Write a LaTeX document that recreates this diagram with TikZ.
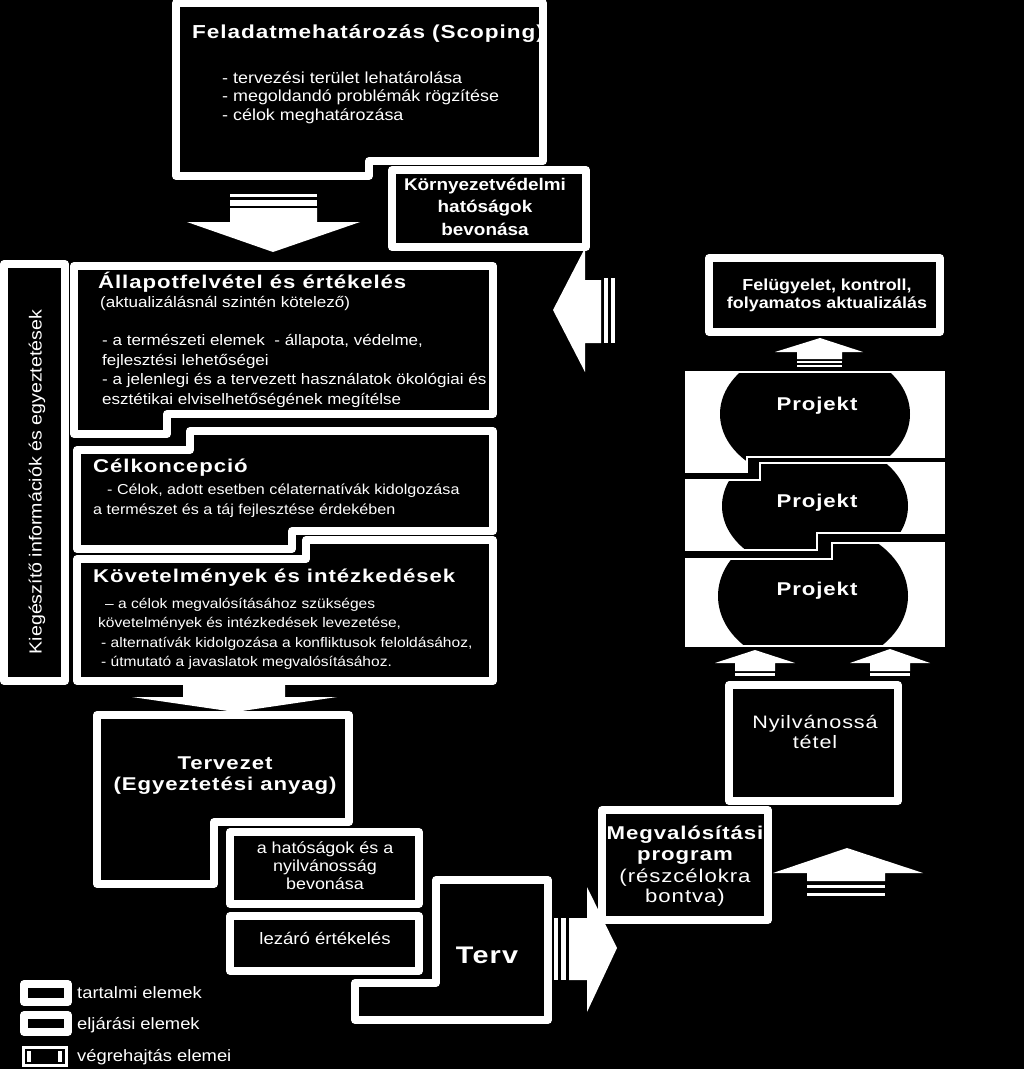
\documentclass[tikz,border=0pt]{standalone}
\usepackage{fontspec}
\setmainfont{Liberation Sans}[FakeStretch=1.12]
\newfontfamily\tfont{Liberation Sans}[FakeStretch=1.2,LetterSpace=5]
\newcommand{\fs}[1]{\fontsize{#1}{#1}\selectfont}
\tikzset{
  box/.style={draw=white, line width=7.5pt, fill=black, line join=round},
  pframe/.style={draw=white, line width=2.5pt},
  arr/.style={fill=white},
  txt/.style={text=white, inner sep=0pt},
  lt/.style={txt, anchor=base west},
  ct/.style={txt, anchor=base},
}
\begin{document}
\begin{tikzpicture}[x=1pt,y=-1pt]
\useasboundingbox (0,0) rectangle (1024,1069);
\fill[black] (0,0) rectangle (1024,1069);

% ---------- block arrows ----------
% down arrow below scoping
\fill[arr] (230,194) rectangle (317,197);
\fill[arr] (230,199.5) rectangle (317,205.5);
\fill[arr] (230,208) -- (317,208) -- (317,222) -- (360,222) -- (273,252) -- (187,222) -- (230,222) -- cycle;
% left arrow
\fill[arr] (553,310) -- (585,248) -- (585,280) -- (601,280) -- (601,343) -- (585,343) -- (585,372) -- cycle;
\fill[arr] (603.5,278) rectangle (608,343);
\fill[arr] (611,278) rectangle (615,343);
% right arrow Terv -> program
\fill[arr] (554,918) rectangle (558,980);
\fill[arr] (561,918) rectangle (566,980);
\fill[arr] (569,918) -- (587,918) -- (587,887) -- (617,948) -- (587,1012) -- (587,980) -- (569,980) -- cycle;
% up arrow right of program
\fill[arr] (807,881) -- (807,873) -- (773,873) -- (847,848) -- (923,873) -- (885,873) -- (885,881) -- cycle;
\fill[arr] (807,884.5) rectangle (885,888);
\fill[arr] (807,892.5) rectangle (885,896);
% up arrow above Projekt 1
\fill[arr] (797,359) -- (797,352) -- (775,352) -- (820,338) -- (863,352) -- (842,352) -- (842,359) -- cycle;
\fill[arr] (797,361) rectangle (842,363);
\fill[arr] (797,365) rectangle (842,367);
% small up arrows below Projekt 3
\fill[arr] (735,671) -- (735,663) -- (715,663) -- (755,650) -- (795,663) -- (775,663) -- (775,671) -- cycle;
\fill[arr] (735,673) rectangle (775,676);
\fill[arr] (870,671) -- (870,663) -- (850,663) -- (890,649) -- (930,663) -- (910,663) -- (910,671) -- cycle;
\fill[arr] (870,673) rectangle (910,676);

% ---------- boxes ----------
\draw[box] (176,3) -- (543,3) -- (543,161) -- (369,161) -- (369,176) -- (176,176) -- cycle;
\draw[box] (392,170) rectangle (586,247);
\draw[box] (4,264) rectangle (65,681);
\draw[box] (74,266) -- (493,266) -- (493,414) -- (167,414) -- (167,434) -- (74,434) -- cycle;
\draw[box] (77,450) -- (190,450) -- (190,431) -- (493,431) -- (493,531) -- (292,531) -- (292,549) -- (77,549) -- cycle;
\draw[box] (77,559) -- (306,559) -- (306,540) -- (493,540) -- (493,681) -- (77,681) -- cycle;
% down arrow below Kovetelmenyek
\fill[arr] (183,683) -- (285,683) -- (285,697) -- (337,697) -- (235,712) -- (132,697) -- (183,697) -- cycle;
\draw[box] (97,715) -- (349,715) -- (349,822) -- (214,822) -- (214,884) -- (97,884) -- cycle;
\draw[box] (230,832) rectangle (419,904);
\draw[box] (230,916) rectangle (419,971);
\draw[box] (436,880) -- (548,880) -- (548,1020) -- (355,1020) -- (355,983) -- (436,983) -- cycle;
\draw[box] (602,810) rectangle (768,920);
\draw[box] (729,685) rectangle (898,801);
\draw[box] (709,258) rectangle (940,332);

% ---------- Projekt frames ----------
\def\pa{(686,372) -- (944,372) -- (944,457) -- (747,457) -- (747,472) -- (686,472) -- cycle}
\def\pb{(686,480) -- (760,480) -- (760,463) -- (944,463) -- (944,533) -- (817,533) -- (817,550) -- (686,550) -- cycle}
\def\pc{(686,559) -- (832,559) -- (832,543) -- (944,543) -- (944,646) -- (686,646) -- cycle}
\fill[white] \pa; \fill[white] \pb; \fill[white] \pc;
\begin{scope}\clip \pa; \fill[black] (815,414) ellipse [x radius=95, y radius=68]; \end{scope}
\begin{scope}\clip \pb; \fill[black] (815,506) ellipse [x radius=93, y radius=66]; \end{scope}
\begin{scope}\clip \pc; \fill[black] (813,596) ellipse [x radius=95, y radius=72]; \end{scope}
\draw[pframe] \pa; \draw[pframe] \pb; \draw[pframe] \pc;

% ---------- legend ----------
\draw[box] (24,984) rectangle (68,1002);
\draw[box] (24,1015) rectangle (68,1032);
\fill[white] (22,1046) rectangle (68,1067);
\fill[black] (25,1049) rectangle (65,1064);
\fill[white] (27,1051) rectangle (31,1062);
\fill[white] (58,1051) rectangle (62,1062);

% ---------- texts ----------
\node[ct] (scT) at (368,38) {\tfont\bfseries\fs{18.8}Feladatmehatározás (Scoping)};
\node[lt] (sc1) at (222,83.5) {\fs{16}- tervezési terület lehatárolása};
\node[lt] (sc2) at (222,101.5) {\fs{16}- megoldandó problémák rögzítése};
\node[lt] (sc3) at (222,120.5) {\fs{16}- célok meghatározása};

\node[ct] (kv1) at (485,190) {\bfseries\fs{16.9}Környezetvédelmi};
\node[ct] (kv2) at (485,212) {\bfseries\fs{16.9}hatóságok};
\node[ct] (kv3) at (485,235) {\bfseries\fs{16.9}bevonása};

\node[txt, rotate=90] (kieg) at (37,482) {\fs{17.5}Kiegészítő információk és egyeztetések};

\node[lt] (alT) at (98,288) {\tfont\bfseries\fs{18.5}Állapotfelvétel és értékelés};
\node[lt] (al0) at (100,307) {\fs{15.2}(aktualizálásnál szintén kötelező)};
\node[lt] (al1) at (102,345) {\fs{15.2}- a természeti elemek \ - állapota, védelme,};
\node[lt] (al2) at (102,365) {\fs{15.2}fejlesztési lehetőségei};
\node[lt] (al3) at (102,384) {\fs{15.2}- a jelenlegi és a tervezett használatok ökológiai és};
\node[lt] (al4) at (102,404) {\fs{15.2}esztétikai elviselhetőségének megítélse};

\node[lt] (ckT) at (93,472) {\tfont\bfseries\fs{18.5}Célkoncepció};
\node[lt] (ck1) at (107,494) {\fs{14.4}- Célok, adott esetben célaternatívák kidolgozása};
\node[lt] (ck2) at (93,514) {\fs{14.4}a természet és a táj fejlesztése érdekében};

\node[lt] (kvT) at (93,582) {\tfont\bfseries\fs{18.5}Követelmények és intézkedések};
\node[lt] (kb1) at (105,608) {\fs{13.9}– a célok megvalósításához szükséges};
\node[lt] (kb2) at (98,627) {\fs{13.9}követelmények és intézkedések levezetése,};
\node[lt] (kb3) at (101,647) {\fs{13.9}- alternatívák kidolgozása a konfliktusok feloldásához,};
\node[lt] (kb4) at (101,666) {\fs{13.9}- útmutató a javaslatok megvalósításához.};

\node[ct] (tz1) at (225,769) {\tfont\bfseries\fs{18.5}Tervezet};
\node[ct] (tz2) at (225,790) {\tfont\bfseries\fs{18.5}(Egyeztetési anyag)};

\node[ct] (hb1) at (325,853) {\fs{16}a hatóságok és a};
\node[ct] (hb2) at (325,871) {\fs{16}nyilvánosság};
\node[ct] (hb3) at (325,889) {\fs{16}bevonása};
\node[ct] (lz) at (325,944) {\fs{16.6}lezáró értékelés};
\node[ct] (terv) at (487,963) {\tfont\bfseries\fs{24}Terv};

\node[ct] (mp1) at (685,839) {\tfont\bfseries\fs{18.5}Megvalósítási};
\node[ct] (mp2) at (685,860) {\tfont\bfseries\fs{18.5}program};
\node[ct] (mp3) at (685,882) {\tfont\fs{18.5}(részcélokra};
\node[ct] (mp4) at (685,902) {\tfont\fs{18.5}bontva)};

\node[ct] (ny1) at (815,728) {\tfont\fs{18}Nyilvánossá};
\node[ct] (ny2) at (815,748) {\tfont\fs{18}tétel};

\node[ct] (fe1) at (827,290) {\bfseries\fs{16}Felügyelet, kontroll,};
\node[ct] (fe2) at (827,308) {\bfseries\fs{16}folyamatos aktualizálás};

\node[ct] (pr1) at (817,410) {\tfont\bfseries\fs{18.5}Projekt};
\node[ct] (pr2) at (817,507) {\tfont\bfseries\fs{18.5}Projekt};
\node[ct] (pr3) at (817,595) {\tfont\bfseries\fs{18.5}Projekt};

\node[lt] (lg1) at (77,998) {\fs{16.4}tartalmi elemek};
\node[lt] (lg2) at (77,1029) {\fs{16.4}eljárási elemek};
\node[lt] (lg3) at (77,1061) {\fs{16.4}végrehajtás elemei};
\end{tikzpicture}
\end{document}
